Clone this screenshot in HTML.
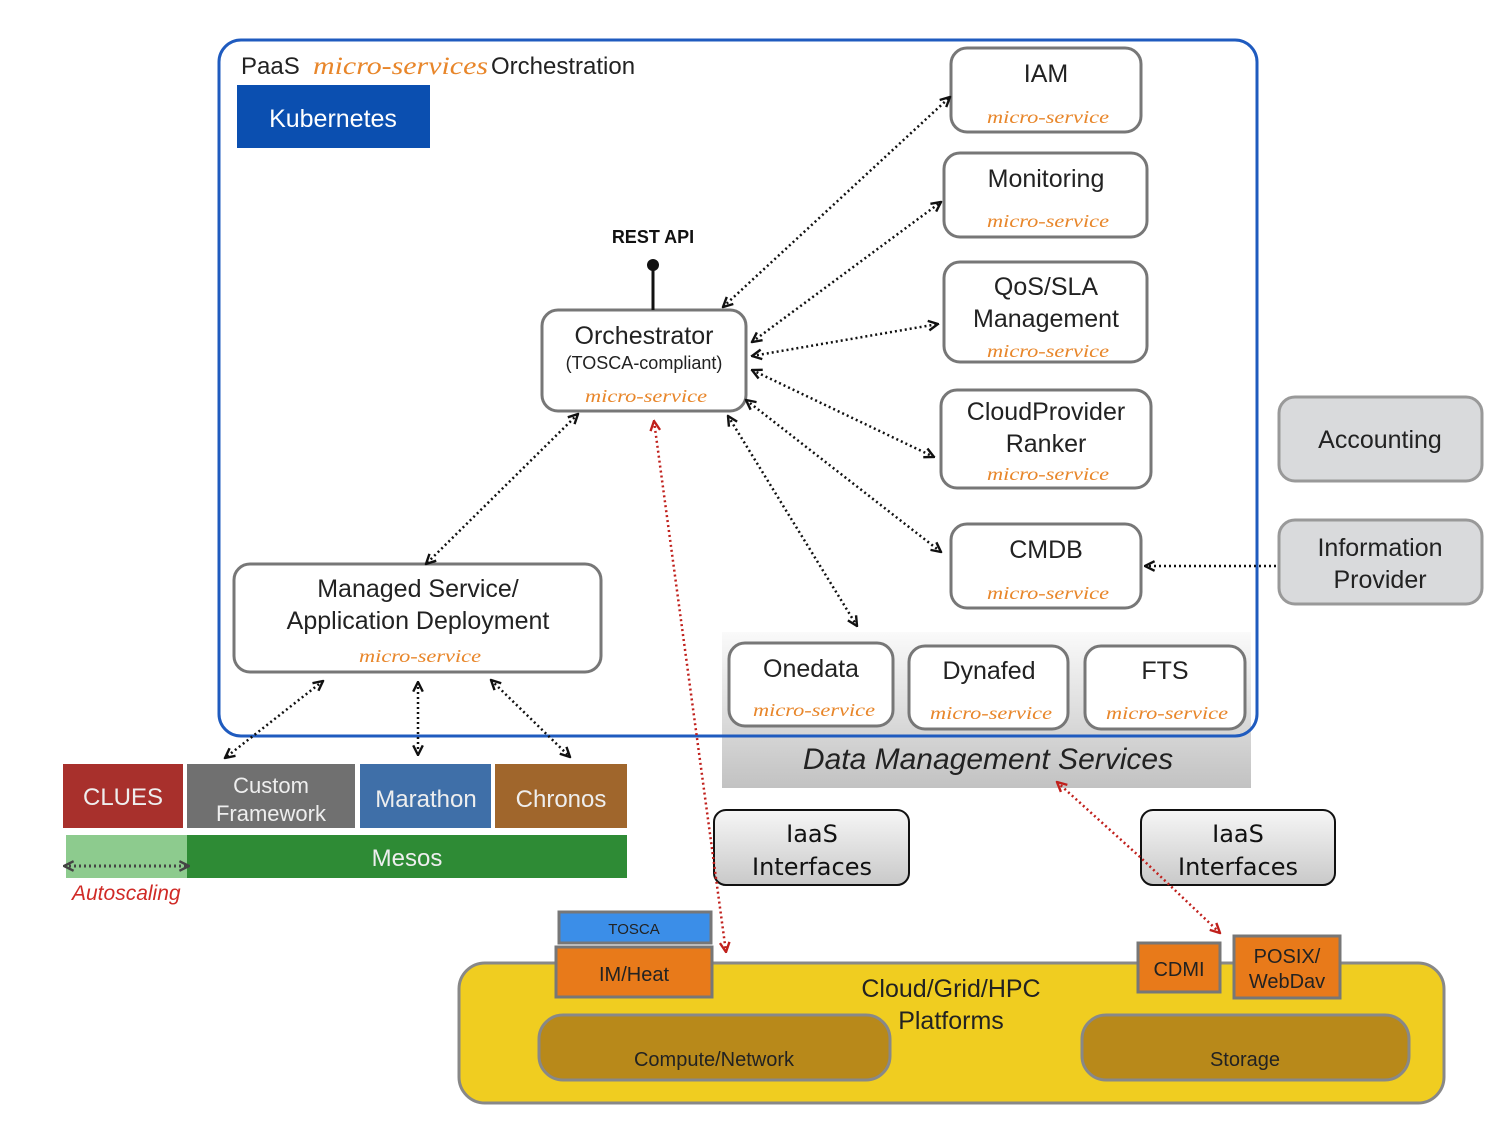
<!DOCTYPE html>
<html><head><meta charset="utf-8"><style>
html,body{margin:0;padding:0;background:#fff;}
svg{display:block;font-family:"Liberation Sans",sans-serif;}
.ms{font-family:"Liberation Serif",serif;font-style:italic;fill:#e8862a;font-size:18px;}
.t{fill:#222;font-size:25px;}
</style></head><body>
<svg width="1500" height="1125" viewBox="0 0 1500 1125">
<defs>
<marker id="a" viewBox="0 0 10 10" refX="9" refY="5" markerWidth="12" markerHeight="12" orient="auto-start-reverse" markerUnits="userSpaceOnUse"><path d="M1,1 L9,5 L1,9" fill="none" stroke="#111" stroke-width="2"/></marker>
<marker id="r" viewBox="0 0 10 10" refX="9" refY="5" markerWidth="12" markerHeight="12" orient="auto-start-reverse" markerUnits="userSpaceOnUse"><path d="M1,1 L9,5 L1,9" fill="none" stroke="#c0201c" stroke-width="2"/></marker>
<marker id="g" viewBox="0 0 10 10" refX="9" refY="5" markerWidth="12" markerHeight="12" orient="auto-start-reverse" markerUnits="userSpaceOnUse"><path d="M1,1 L9,5 L1,9" fill="none" stroke="#444" stroke-width="2"/></marker>
<linearGradient id="dm" x1="0" y1="0" x2="0" y2="1"><stop offset="0" stop-color="#fafafa"/><stop offset="1" stop-color="#c2c2c2"/></linearGradient>
<linearGradient id="ia" x1="0" y1="0" x2="0" y2="1"><stop offset="0" stop-color="#f6f6f6"/><stop offset="1" stop-color="#c9c9c9"/></linearGradient>
</defs>

<rect x="722" y="632" width="529" height="156" fill="url(#dm)"/>
<rect x="219" y="40" width="1038" height="696" rx="22" fill="none" stroke="#1f5bbf" stroke-width="3"/>
<text x="241" y="74" font-size="24" fill="#222">PaaS</text>
<text x="313" y="74" class="ms" style="font-size:25px" textLength="175" lengthAdjust="spacingAndGlyphs">micro-services</text>
<text x="491" y="74" font-size="24" fill="#222">Orchestration</text>
<rect x="237" y="85" width="193" height="63" fill="#0b4fb0"/>
<text x="333" y="127" font-size="25" fill="#fff" text-anchor="middle">Kubernetes</text>

<g fill="#fff" stroke="#777" stroke-width="3">
<rect x="951" y="48" width="190" height="84" rx="16"/>
<rect x="944" y="153" width="203" height="84" rx="16"/>
<rect x="944" y="262" width="203" height="100" rx="16"/>
<rect x="941" y="390" width="210" height="98" rx="16"/>
<rect x="951" y="524" width="190" height="84" rx="16"/>
<rect x="542" y="310" width="204" height="101" rx="16"/>
<rect x="234" y="564" width="367" height="108" rx="16"/>
<rect x="729" y="643" width="164" height="83" rx="16"/>
<rect x="909" y="646" width="159" height="83" rx="16"/>
<rect x="1085" y="646" width="160" height="83" rx="16"/>
</g>
<g class="t" text-anchor="middle">
<text x="1046" y="82">IAM</text>
<text x="1046" y="187">Monitoring</text>
<text x="1046" y="295">QoS/SLA</text>
<text x="1046" y="327">Management</text>
<text x="1046" y="420">CloudProvider</text>
<text x="1046" y="452">Ranker</text>
<text x="1046" y="558">CMDB</text>
<text x="644" y="344">Orchestrator</text>
<text x="644" y="369" font-size="18">(TOSCA-compliant)</text>
<text x="418" y="597">Managed Service/</text>
<text x="418" y="629">Application Deployment</text>
<text x="811" y="677">Onedata</text>
<text x="989" y="679">Dynafed</text>
<text x="1165" y="679">FTS</text>
</g>
<g class="ms" text-anchor="middle" lengthAdjust="spacingAndGlyphs">
<text x="1048" y="123" textLength="122" lengthAdjust="spacingAndGlyphs">micro-service</text>
<text x="1048" y="227" textLength="122" lengthAdjust="spacingAndGlyphs">micro-service</text>
<text x="1048" y="357" textLength="122" lengthAdjust="spacingAndGlyphs">micro-service</text>
<text x="1048" y="480" textLength="122" lengthAdjust="spacingAndGlyphs">micro-service</text>
<text x="1048" y="599" textLength="122" lengthAdjust="spacingAndGlyphs">micro-service</text>
<text x="646" y="402" textLength="122" lengthAdjust="spacingAndGlyphs">micro-service</text>
<text x="420" y="662" textLength="122" lengthAdjust="spacingAndGlyphs">micro-service</text>
<text x="814" y="716" textLength="122" lengthAdjust="spacingAndGlyphs">micro-service</text>
<text x="991" y="719" textLength="122" lengthAdjust="spacingAndGlyphs">micro-service</text>
<text x="1167" y="719" textLength="122" lengthAdjust="spacingAndGlyphs">micro-service</text>
</g>
<text x="988" y="769" font-size="30" font-style="italic" fill="#222" text-anchor="middle">Data Management Services</text>

<text x="653" y="243" font-size="18" font-weight="bold" fill="#111" text-anchor="middle">REST API</text>
<line x1="653" y1="265" x2="653" y2="310" stroke="#111" stroke-width="3"/>
<circle cx="653" cy="265" r="6" fill="#111"/>

<g fill="#d9dadc" stroke="#999" stroke-width="3">
<rect x="1279" y="397" width="203" height="84" rx="16"/>
<rect x="1279" y="520" width="203" height="84" rx="16"/>
</g>
<g class="t" text-anchor="middle">
<text x="1380" y="448">Accounting</text>
<text x="1380" y="556">Information</text>
<text x="1380" y="588">Provider</text>
</g>

<g stroke="#111" stroke-width="2.5" stroke-dasharray="2,3" fill="none" marker-start="url(#a)" marker-end="url(#a)">
<line x1="723" y1="307" x2="950" y2="97"/>
<line x1="752" y1="342" x2="941" y2="202"/>
<line x1="752" y1="356" x2="938" y2="324"/>
<line x1="752" y1="370" x2="934" y2="457"/>
<line x1="746" y1="400" x2="941" y2="552"/>
<line x1="728" y1="416" x2="857" y2="626"/>
<line x1="578" y1="414" x2="426" y2="564"/>
<line x1="323" y1="681" x2="225" y2="758"/>
<line x1="418" y1="682" x2="418" y2="755"/>
<line x1="491" y1="680" x2="570" y2="757"/>
</g>
<line x1="1276" y1="566" x2="1145" y2="566" stroke="#111" stroke-width="2.5" stroke-dasharray="2,3" marker-end="url(#a)"/>

<rect x="63" y="764" width="120" height="64" fill="#a8302c"/>
<rect x="187" y="764" width="168" height="64" fill="#707070"/>
<rect x="360" y="764" width="131" height="64" fill="#3f6fa8"/>
<rect x="495" y="764" width="132" height="64" fill="#a0662c"/>
<rect x="66" y="835" width="121" height="43" fill="#8dcb8e"/>
<rect x="187" y="835" width="440" height="43" fill="#2e8b35"/>
<g fill="#eee" font-size="24" text-anchor="middle">
<text x="123" y="805">CLUES</text>
<text x="271" y="793" font-size="22">Custom</text>
<text x="271" y="821" font-size="22">Framework</text>
<text x="426" y="807">Marathon</text>
<text x="561" y="807">Chronos</text>
<text x="407" y="866">Mesos</text>
</g>
<line x1="64" y1="866" x2="189" y2="866" stroke="#444" stroke-width="3" stroke-dasharray="2,3" marker-start="url(#g)" marker-end="url(#g)"/>
<text x="72" y="900" font-size="21" font-style="italic" fill="#d02a26">Autoscaling</text>

<g fill="url(#ia)" stroke="#111" stroke-width="2">
<rect x="714" y="810" width="195" height="75" rx="12"/>
<rect x="1141" y="810" width="194" height="75" rx="12"/>
</g>
<g font-family="DejaVu Sans,sans-serif" font-size="24" fill="#111" text-anchor="middle">
<text x="812" y="842">IaaS</text><text x="812" y="875">Interfaces</text>
<text x="1238" y="842">IaaS</text><text x="1238" y="875">Interfaces</text>
</g>

<rect x="459" y="963" width="985" height="140" rx="26" fill="#f0cd20" stroke="#888" stroke-width="3"/>
<rect x="539" y="1015" width="351" height="65" rx="24" fill="#b8891a" stroke="#888" stroke-width="3"/>
<rect x="1082" y="1015" width="327" height="65" rx="24" fill="#b8891a" stroke="#888" stroke-width="3"/>
<g fill="#222" font-size="20" text-anchor="middle">
<text x="714" y="1066">Compute/Network</text>
<text x="1245" y="1066">Storage</text>
<text x="951" y="997" font-size="25">Cloud/Grid/HPC</text>
<text x="951" y="1029" font-size="25">Platforms</text>
</g>
<rect x="559" y="912" width="152" height="31" fill="#3b8ee8" stroke="#777" stroke-width="3"/>
<rect x="556" y="947" width="156" height="50" fill="#e87a1a" stroke="#777" stroke-width="3"/>
<rect x="1138" y="943" width="82" height="49" fill="#e87a1a" stroke="#777" stroke-width="3"/>
<rect x="1234" y="936" width="106" height="62" fill="#e87a1a" stroke="#777" stroke-width="3"/>
<g fill="#222" text-anchor="middle">
<text x="634" y="934" font-size="15">TOSCA</text>
<text x="634" y="981" font-size="20">IM/Heat</text>
<text x="1179" y="976" font-size="20">CDMI</text>
<text x="1287" y="963" font-size="20">POSIX/</text>
<text x="1287" y="988" font-size="20">WebDav</text>
</g>

<g stroke="#c0201c" stroke-width="2.5" stroke-dasharray="2,3" fill="none" marker-start="url(#r)" marker-end="url(#r)">
<line x1="654" y1="421" x2="726" y2="952"/>
<polyline points="1057,782 1140,857 1220,933"/>
</g>
</svg>
</body></html>
